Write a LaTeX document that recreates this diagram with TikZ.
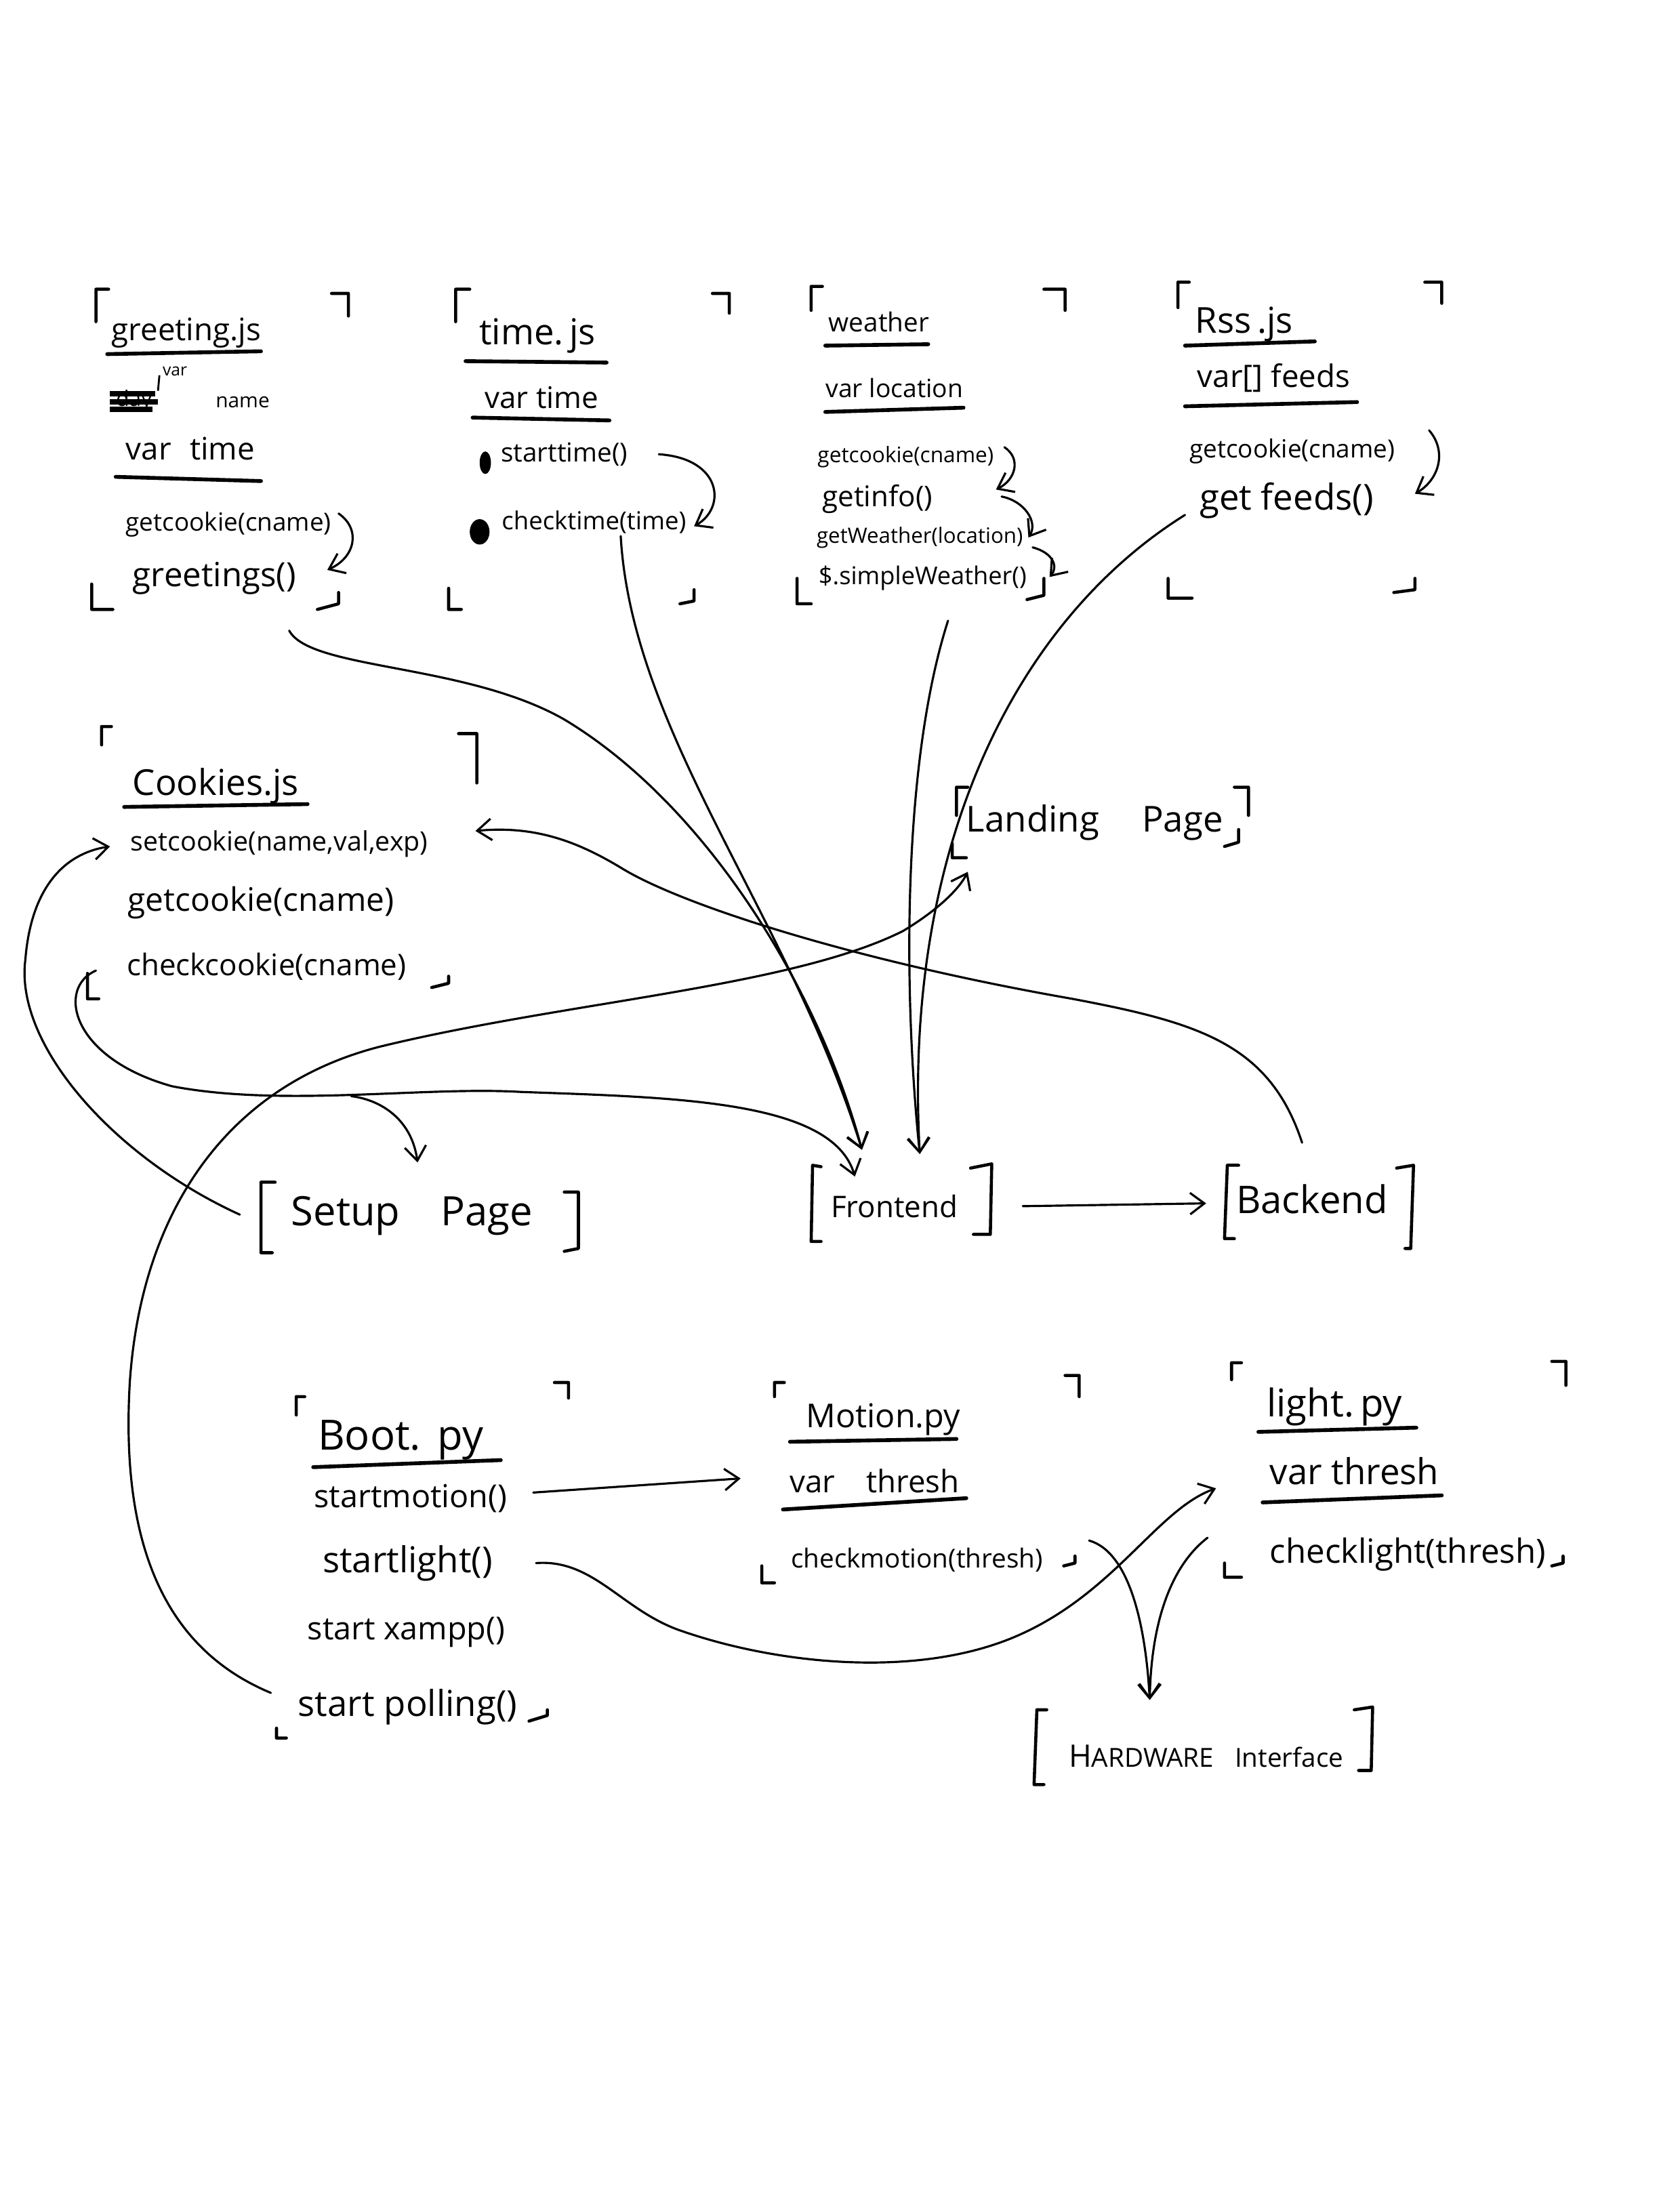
\documentclass[tikz,border=0pt]{standalone}
\usepackage{fontspec}
\setmainfont{Open Sans}
\usetikzlibrary{arrows.meta}
\newcommand\hfs[1]{\fontsize{#1}{#1}\selectfont}
\begin{document}
\begin{tikzpicture}[x=0.020816cm,y=-0.020816cm,
  brk/.style={line width=1.3pt,line cap=round,line join=round},
  uln/.style={line width=1.6pt,line cap=round},
  conn/.style={line width=0.9pt,line cap=round,-{Straight Barb[length=6pt,width=9pt,line width=0.9pt]}},
  lbl/.style={inner sep=0pt,anchor=center},
]
\fill[white] (0,0) rectangle (1176,1568);
\useasboundingbox (0,0) rectangle (1176,1568);

% ---------------- greeting.js
\draw[brk] (68,228)--(68,205)--(77,205) (235,208)--(247,208)--(247,224) (65,414)--(65,432)--(80,432) (225,432)--(240,428)--(240,420);
\node[lbl,font=\hfs{13}] (gTitle) at (132,236) {greeting.js};
\draw[uln] (76,251)--(185,249);
\node[lbl,font=\hfs{7}] (gVarSup) at (124,263) {var};
\draw[line width=0.8pt] (112,277)--(113,266);
\node[lbl,font=\hfs{9}] (gStruck) at (95,284) {day};
\draw[line width=2.2pt] (78,279)--(110,279) (78,285)--(112,285) (78,290)--(108,290);
\node[lbl,font=\hfs{8.5}] (gName) at (172,285) {name};
\node[lbl,font=\hfs{13}] (gVarTime) at (135,318) {var\hspace{0.6em}time};
\draw[uln] (82,338)--(185,341);
\node[lbl,font=\hfs{10.5}] (gGetCookie) at (162,372) {getcookie(cname)};
\node[lbl,font=\hfs{14}] (gGreetings) at (152,410) {greetings()};
\draw[conn] (240,364) .. controls (256,375) and (252,395) .. (232,404);

% ---------------- time.js
\draw[brk] (323,228)--(323,205)--(333,205) (505,208)--(517,208)--(517,222) (318,417)--(318,432)--(327,432) (482,428)--(492,426)--(492,418);
\node[lbl,font=\hfs{15}] (tTitle) at (381,238) {time.\,js};
\draw[uln] (330,256)--(430,257);
\node[lbl,font=\hfs{12.5}] (tVar) at (384,282) {var time};
\draw[uln] (335,296)--(432,298);
\fill (344,328) ellipse [x radius=4, y radius=8];
\node[lbl,font=\hfs{11}] (tStart) at (400,322) {starttime()};
\fill (340,377) ellipse [x radius=7, y radius=9];
\node[lbl,font=\hfs{10.4}] (tCheck) at (421,370) {checktime(time)};
\draw[conn] (467,322) .. controls (512,325) and (515,360) .. (492,373);

% ---------------- weather
\draw[brk] (575,220)--(575,203)--(583,203) (740,205)--(755,205)--(755,220) (565,410)--(565,428)--(575,428) (728,425)--(740,422)--(740,410);
\node[lbl,font=\hfs{11}] (wTitle) at (623,228) {weather};
\draw[uln] (585,245)--(658,244);
\node[lbl,font=\hfs{10.6}] (wVar) at (634,275) {var location};
\draw[uln] (585,292)--(683,289);
\node[lbl,font=\hfs{9}] (wGetCookie) at (642,324) {getcookie(cname)};
\node[lbl,font=\hfs{12}] (wGetInfo) at (622,354) {getinfo()};
\node[lbl,font=\hfs{8.9}] (wGetWeather) at (652,381) {getWeather(location)};
\node[lbl,font=\hfs{10.3}] (wSimple) at (654,410) {\$.simpleWeather()};
\draw[conn] (712,317) .. controls (724,325) and (720,340) .. (706,347);
\draw[conn] (710,352) .. controls (726,355) and (736,370) .. (729,381);
\draw[conn] (732,388) .. controls (747,392) and (750,402) .. (744,409);

% ---------------- Rss.js
\draw[brk] (835,218)--(835,200)--(843,200) (1010,200)--(1022,200)--(1022,215) (828,410)--(828,424)--(845,424) (988,420)--(1003,418)--(1003,410);
\node[lbl,font=\hfs{15}] (rTitle) at (882,230) {Rss\,.js};
\draw[uln] (840,245)--(932,242);
\node[lbl,font=\hfs{13}] (rVar) at (903,268) {var[] feeds};
\draw[uln] (840,288)--(962,285);
\node[lbl,font=\hfs{10.5}] (rGetCookie) at (916,320) {getcookie(cname)};
\node[lbl,font=\hfs{15}] (rGetFeeds) at (912,355) {get feeds()};
\draw[conn] (1013,305) .. controls (1026,320) and (1020,340) .. (1003,350);

% ---------------- Cookies.js
\draw[brk] (72,528)--(72,515)--(79,515) (325,520)--(338,520)--(338,555) (62,690)--(62,708)--(70,708) (306,700)--(318,697)--(318,692);
\node[lbl,font=\hfs{15}] (cTitle) at (153,557) {Cookies.js};
\draw[uln] (88,572)--(218,570);
\node[lbl,font=\hfs{11.2}] (cSet) at (198,598) {setcookie(name,val,exp)};
\node[lbl,font=\hfs{13.6}] (cGet) at (185,640) {getcookie(cname)};
\node[lbl,font=\hfs{12.5}] (cCheck) at (189,685) {checkcookie(cname)};

% ---------------- Landing Page
\draw[brk] (678,578)--(678,558)--(686,558) (675,598)--(675,608)--(685,608) (875,558)--(885,558)--(885,578) (868,600)--(878,597)--(878,588);
\node[lbl,font=\hfs{15}] (Landing) at (776,583) {Landing\hspace{1.2em}Page};

% ---------------- Setup / Frontend / Backend
\draw[brk] (195,838)--(185,838)--(185,888)--(193,888) (400,845)--(410,845)--(410,885)--(400,887);
\node[lbl,font=\hfs{17}] (Setup) at (292,862) {Setup\hspace{1em}Page};
\draw[brk] (582,827)--(576,826)--(575,880)--(582,880) (688,828)--(703,825)--(702,875)--(690,875);
\node[lbl,font=\hfs{12.5}] (Frontend) at (634,855) {Frontend};
\draw[brk] (878,826)--(870,826)--(868,878)--(875,878) (990,828)--(1002,826)--(1000,885)--(996,885);
\node[lbl,font=\hfs{16}] (Backend) at (930,850) {Backend};

% ---------------- Boot.py
\draw[brk] (210,1003)--(210,990)--(216,990) (393,980)--(403,980)--(403,991) (196,1225)--(196,1232)--(203,1232) (375,1220)--(388,1216)--(388,1212);
\node[lbl,font=\hfs{17.5}] (bTitle) at (284,1021) {Boot.\hspace{0.4em}py};
\draw[uln] (222,1040)--(355,1035);
\node[lbl,font=\hfs{13.3}] (bMotion) at (291,1062) {startmotion()};
\node[lbl,font=\hfs{15}] (bLight) at (289,1108) {startlight()};
\node[lbl,font=\hfs{13.3}] (bXampp) at (288,1157) {start xampp()};
\node[lbl,font=\hfs{15}] (bPoll) at (289,1210) {start polling()};

% ---------------- Motion.py
\draw[brk] (549,990)--(549,980)--(556,980) (755,975)--(765,975)--(765,990) (540,1110)--(540,1122)--(549,1122) (754,1110)--(762,1108)--(762,1103);
\node[lbl,font=\hfs{13.8}] (mTitle) at (626,1006) {Motion.py};
\draw[uln] (560,1022)--(678,1020);
\node[lbl,font=\hfs{13}] (mVar) at (620,1050) {var\hspace{1em}thresh};
\draw[uln] (555,1070)--(685,1062);
\node[lbl,font=\hfs{11}] (mCheck) at (650,1106) {checkmotion(thresh)};

% ---------------- light.py
\draw[brk] (873,978)--(873,966)--(880,966) (1100,965)--(1110,965)--(1110,982) (868,1108)--(868,1118)--(880,1118) (1100,1110)--(1108,1108)--(1108,1103);
\node[lbl,font=\hfs{16}] (lTitle) at (946,997) {light.\,py};
\draw[uln] (892,1015)--(1004,1012);
\node[lbl,font=\hfs{15}] (lVar) at (960,1043) {var thresh};
\draw[uln] (895,1065)--(1022,1060);
\node[lbl,font=\hfs{14}] (lCheck) at (998,1102) {checklight(thresh)};

% ---------------- Hardware Interface
\draw[brk] (742,1212)--(735,1212)--(733,1265)--(740,1265) (960,1212)--(973,1210)--(972,1255)--(963,1255);
\node[lbl,font=\hfs{11}] (Hardware) at (855,1245) {{\hfs{13}H}ARDWARE\hspace{0.8em}Interface};

% ---------------- connector end points
\coordinate (pGreet) at (205,447);
\coordinate (pCheckT) at (440,380);
\coordinate (pWeather) at (672,440);
\coordinate (pFeeds) at (840,365);
\coordinate (pFrontA) at (611,815);
\coordinate (pFrontB) at (652,818);
\coordinate (pFrontC) at (606,834);
\coordinate (pCheckC) at (68,688);
\coordinate (pSplit) at (249,777);
\coordinate (pSetupTop) at (296,824);
\coordinate (pSetupL) at (170,861);
\coordinate (pSetL) at (78,600);
\coordinate (pSetR) at (337,589);
\coordinate (pBackTop) at (923,810);
\coordinate (pPoll) at (192,1200);
\coordinate (pLand) at (686,618);
\coordinate (pFrontR) at (725,855);
\coordinate (pBackL) at (855,853);
\coordinate (pMotOut) at (378,1058);
\coordinate (pMotIn) at (525,1048);
\coordinate (pLightOut) at (380,1108);
\coordinate (pLightIn) at (862,1055);
\coordinate (pCMout) at (772,1092);
\coordinate (pCLout) at (856,1090);
\coordinate (pHW) at (815,1205);

% ---------------- connectors
\draw[conn] (pGreet) .. controls (220,475) and (330,470) .. (400,510) .. controls (500,570) and (580,700) .. (pFrontA);
\draw[conn] (pCheckT) .. controls (448,520) and (560,650) .. (pFrontA);
\draw[conn] (pWeather) .. controls (640,540) and (640,700) .. (pFrontB);
\draw[conn] (pFeeds) .. controls (720,440) and (640,600) .. (pFrontB);
\draw[conn] (pCheckC) .. controls (40,700) and (50,750) .. (122,770) .. controls (200,785) and (300,770) .. (369,774) .. controls (480,778) and (590,780) .. (pFrontC);
\draw[conn] (pSplit) .. controls (272,780) and (292,795) .. (pSetupTop);
\draw[conn] (pSetupL) .. controls (80,820) and (10,740) .. (18,680) .. controls (22,630) and (45,605) .. (pSetL);
\draw[conn] (pBackTop) .. controls (900,740) and (850,725) .. (760,708) .. controls (600,680) and (480,640) .. (440,615) .. controls (410,597) and (380,585) .. (pSetR);
\draw[conn] (pPoll) .. controls (120,1170) and (85,1100) .. (92,980) .. controls (100,860) and (160,770) .. (269,742) .. controls (400,710) and (560,700) .. (640,660) .. controls (665,645) and (680,630) .. (pLand);
\draw[conn] (pFrontR) -- (pBackL);
\draw[conn] (pMotOut) -- (pMotIn);
\draw[conn] (pLightOut) .. controls (420,1105) and (440,1140) .. (480,1155) .. controls (550,1180) and (650,1190) .. (720,1160) .. controls (790,1130) and (820,1070) .. (pLightIn);
\draw[conn] (pCMout) .. controls (800,1100) and (812,1150) .. (pHW);
\draw[conn] (pCLout) .. controls (830,1110) and (816,1150) .. (pHW);
\end{tikzpicture}
\end{document}
